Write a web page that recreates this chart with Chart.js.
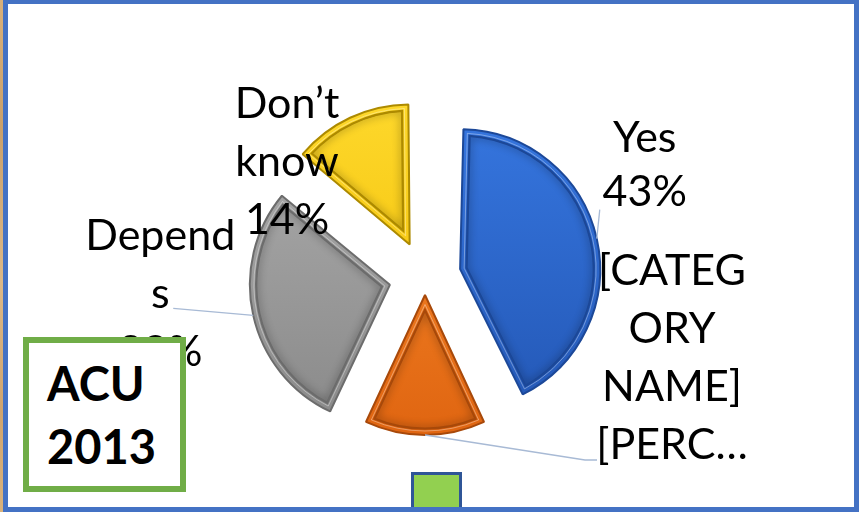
<!DOCTYPE html>
<html>
<head>
<meta charset="utf-8">
<script src="https://cdn.jsdelivr.net/npm/chart.js@4.4.1/dist/chart.umd.min.js"></script>
<style>
  html, body { margin: 0; padding: 0; background: #fff; }
  #stage { position: relative; width: 859px; height: 512px; overflow: hidden; background: #fff; }
  #chart { position: absolute; left: 0; top: 0; }
  .edge { position: absolute; left: 0; top: 0; width: 3px; height: 512px;
          background: linear-gradient(#d8b07a, #caa06a 25%, #dcb887 55%, #cfa46e 80%, #d9b27c); }
  .frame { position: absolute; left: 3px; top: 0; width: 856px; height: 512px; box-sizing: border-box;
           border: 5px solid #4472C4; border-top-width: 4px; pointer-events: none; }
  .tab { position: absolute; left: 411px; top: 472px; width: 51px; height: 40px; box-sizing: border-box;
         border: 3px solid #2F5597; background: #92D050; }
  .badge { position: absolute; left: 23px; top: 337px; width: 163px; height: 155px; box-sizing: border-box;
           border: 6px solid #70AD47; background: #fff; padding: 9px 0 0 18px;
           font: bold 47px Lato, "Open Sans", sans-serif; line-height: 63px; color: #000; }
</style>
</head>
<body>
<div id="stage">
  <canvas id="chart" width="859" height="512"></canvas>
  <div class="edge"></div>
  <div class="tab"></div>
  <div class="frame"></div>
  <div class="badge">ACU<br>2013</div>
</div>
<script>
// Survey answers and their shares (percent)
const categories = ['Yes', '[CATEGORY NAME]', 'Depends', 'Don\u2019t know'];
const shares = [43, 14, 29, 14];

// Wrapped label text for each slice; the percentage line is appended where shown
const labelLines = [['Yes'], ['[CATEG', 'ORY', 'NAME]', '[PERC\u2026'], ['Depend', 's'], ['Don\u2019t', 'know']];
const showPercent = [true, false, true, true];

// Slice colours: gradient top, gradient bottom, outline
const fillTop = ['#3778E2', '#F98C2D', '#ADADAD', '#FFDB30'];
const fillBottom = ['#2255B2', '#DD610E', '#868686', '#F0BB00'];
const edgeColors = ['#1C4898', '#A8490A', '#6C6C6C', '#AD8A00'];

// How far each slice is pulled out from the centre, in px
const pull = [36, 18, 36, 36];
const PIE_RADIUS = 140;

const total = shares.reduce((a, b) => a + b, 0);

function sliceFill(context) {
  const i = context.dataIndex;
  if (i === undefined) return fillTop[0];
  const g = context.chart.ctx.createLinearGradient(0, 100, 0, 450);
  g.addColorStop(0, fillTop[i]);
  g.addColorStop(1, fillBottom[i]);
  return g;
}

// Chart.js enlarges an offset arc by (offset/4)*fix; shrink each arc's base radius
// so every exploded slice is painted with the same radius
function radiusGrowth(el) {
  const fix = 1 - Math.sin(Math.min(Math.PI, el.circumference || 0));
  return (el.options.offset || 0) / 4 * fix;
}

const equalRadius = {
  id: 'equalRadius',
  afterDatasetsUpdate(chart) {
    chart.getDatasetMeta(0).data.forEach(el => {
      el.outerRadius = PIE_RADIUS - radiusGrowth(el);
    });
  }
};

// Where an arc is actually painted (centre after the offset, radius, trimmed angles)
function arcGeometry(el) {
  const shift = (el.options.offset || 0) / 4;
  const grow = radiusGrowth(el);
  const r = el.outerRadius + grow;
  const trim = grow / Math.PI / r / 2;
  const mid = (el.startAngle + el.endAngle) / 2;
  return {
    cx: el.x + Math.cos(mid) * shift,
    cy: el.y + Math.sin(mid) * shift,
    s: el.startAngle + trim, e: el.endAngle - trim, r, mid
  };
}

// Sector outline moved inwards by d on every side
function insetPath(ctx, g, d) {
  const half = (g.e - g.s) / 2;
  const ad = d / Math.sin(half);
  const R = g.r - d;
  const t = Math.sqrt(R * R - d * d);
  const delta = Math.atan2(d, t);
  ctx.beginPath();
  ctx.moveTo(g.cx + Math.cos(g.mid) * ad, g.cy + Math.sin(g.mid) * ad);
  ctx.lineTo(g.cx + Math.cos(g.s + delta) * R, g.cy + Math.sin(g.s + delta) * R);
  ctx.arc(g.cx, g.cy, R, g.s + delta, g.e - delta);
  ctx.closePath();
}

// Raised-edge look: inner shadow plus an inset rim line on every slice
const bevel = {
  id: 'bevel',
  afterDatasetsDraw(chart) {
    const ctx = chart.ctx;
    chart.getDatasetMeta(0).data.forEach((el, i) => {
      const g = arcGeometry(el);
      ctx.save();
      insetPath(ctx, g, 6);
      ctx.clip();
      ctx.shadowColor = 'rgba(0,0,0,0.45)';
      ctx.shadowBlur = 9;
      ctx.lineWidth = 3;
      ctx.strokeStyle = edgeColors[i];
      insetPath(ctx, g, 6);
      ctx.stroke();
      ctx.restore();

      ctx.save();
      ctx.lineWidth = 1;
      ctx.strokeStyle = 'rgba(255,255,255,0.35)';
      insetPath(ctx, g, 4);
      ctx.stroke();
      ctx.lineWidth = 1.6;
      ctx.strokeStyle = edgeColors[i];
      insetPath(ctx, g, 6);
      ctx.stroke();
      ctx.restore();
    });
  }
};

// Label block offsets and leader-line bends, relative to the slice's outer mid point
const labelPlacement = [
  { dx: 48, dy: -87, gap: 54, leader: [[3, -29]] },
  { dx: 247, dy: -150, gap: 58, leader: [[160, 25], [172, 25]] },
  { dx: -93, dy: -65, gap: 58, leader: [[-80, -7]] },
  { dx: -63, dy: 0, gap: 58, leader: [] }
];

const labels = {
  id: 'sliceLabels',
  afterDatasetsDraw(chart) {
    const ctx = chart.ctx;
    chart.getDatasetMeta(0).data.forEach((el, i) => {
      const g = arcGeometry(el);
      const ax = g.cx + Math.cos(g.mid) * g.r;
      const ay = g.cy + Math.sin(g.mid) * g.r;
      const pl = labelPlacement[i];

      if (pl.leader.length) {
        ctx.save();
        ctx.strokeStyle = '#A8BAD5';
        ctx.lineWidth = 1.3;
        ctx.beginPath();
        ctx.moveTo(ax, ay);
        pl.leader.forEach(([x, y]) => ctx.lineTo(ax + x, ay + y));
        ctx.stroke();
        ctx.restore();
      }

      const lines = labelLines[i].slice();
      if (showPercent[i]) lines.push(Math.round(shares[i] / total * 100) + '%');
      ctx.save();
      ctx.font = '43px Lato, "Open Sans", sans-serif';
      ctx.fillStyle = '#000';
      ctx.textAlign = 'center';
      ctx.textBaseline = 'alphabetic';
      lines.forEach((txt, k) => ctx.fillText(txt, ax + pl.dx, ay + pl.dy + k * pl.gap));
      ctx.restore();
    });
  }
};

new Chart(document.getElementById('chart'), {
  type: 'pie',
  data: {
    labels: categories,
    datasets: [{
      data: shares,
      backgroundColor: sliceFill,
      borderColor: edgeColors,
      borderWidth: 2,
      offset: pull.map(p => p * 4),
      clip: false
    }]
  },
  options: {
    responsive: false,
    animation: false,
    events: [],
    radius: PIE_RADIUS,
    layout: { padding: { left: 0, right: 9, top: 42, bottom: 0 } },
    plugins: { legend: { display: false }, tooltip: { enabled: false } }
  },
  plugins: [equalRadius, bevel, labels]
});
</script>
</body>
</html>
